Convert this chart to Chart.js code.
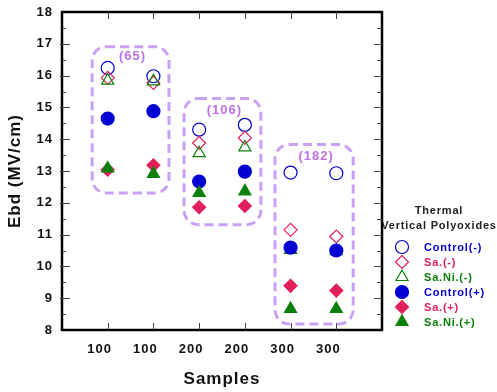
<!DOCTYPE html>
<html>
<head>
<meta charset="utf-8">
<script src="https://cdn.jsdelivr.net/npm/chart.js@4.4.0/dist/chart.umd.min.js"></script>
<style>
  html, body { margin: 0; padding: 0; background: #fff; }
</style>
</head>
<body>
<canvas id="chart" width="497" height="392"></canvas>
<script>
// category labels on the x axis (positions 1..6)
const categories = ['100', '100', '200', '200', '300', '300'];
const seriesNames = ['Control(-)', 'Sa.(-)', 'Sa.Ni.(-)', 'Control(+)', 'Sa.(+)', 'Sa.Ni.(+)'];

// Ebd values (MV/cm)
const controlMinus = [16.24, 15.98, 14.30, 14.45, 12.95, 12.93];
const saMinus      = [15.93, 15.77, 13.88, 14.04, 11.15, 10.94];
const saNiMinus    = [15.84, 15.82, 13.56, 13.74, 10.52, 10.48];
const controlPlus  = [14.65, 14.88, 12.67, 12.98, 10.59, 10.50];
const saPlus       = [13.04, 13.18, 11.86, 11.90, 9.39, 9.24];
const saNiPlus     = [13.08, 12.91, 12.31, 12.36, 8.66, 8.66];

// dashed groups: x range, y range (data units) and label
const groupLabels = ['(65)', '(106)', '(182)'];
const groupX = [[0.66, 2.34], [2.67, 4.35], [4.66, 6.37]];
const groupY = [[16.91, 12.31], [15.28, 11.31], [13.83, 8.19]];

const yTicks = [8, 9, 10, 11, 12, 13, 14, 15, 16, 17, 18];

const BLUE = '#0000d2';
const PINK = '#e2205c';
const GREEN = '#0a800a';
const NONE = 'rgba(0,0,0,0)';

const styles = [
  { color: BLUE,  fill: NONE,  shape: 'circle',   r: 6.5 },
  { color: PINK,  fill: NONE,  shape: 'rectRot',  r: 6.5 },
  { color: GREEN, fill: NONE,  shape: 'triangle', r: 7 },
  { color: BLUE,  fill: BLUE,  shape: 'circle',   r: 6.5 },
  { color: PINK,  fill: PINK,  shape: 'rectRot',  r: 6.5 },
  { color: GREEN, fill: GREEN, shape: 'triangle', r: 7 }
];
const allSeries = [controlMinus, saMinus, saNiMinus, controlPlus, saPlus, saNiPlus];

const datasets = allSeries.map((vals, i) => ({
  label: seriesNames[i],
  data: vals.map((v, j) => ({ x: j + 1, y: v })),
  pointStyle: styles[i].shape,
  pointRadius: styles[i].r,
  pointHoverRadius: styles[i].r,
  pointBackgroundColor: styles[i].fill,
  pointBorderColor: styles[i].color,
  pointBorderWidth: 1.2,
  showLine: false,
  order: 5 - i
}));

function roundRect(ctx, x, y, w, h, r) {
  ctx.beginPath();
  ctx.moveTo(x + r, y);
  ctx.lineTo(x + w - r, y);
  ctx.arcTo(x + w, y, x + w, y + r, r);
  ctx.lineTo(x + w, y + h - r);
  ctx.arcTo(x + w, y + h, x + w - r, y + h, r);
  ctx.lineTo(x + r, y + h);
  ctx.arcTo(x, y + h, x, y + h - r, r);
  ctx.lineTo(x, y + r);
  ctx.arcTo(x, y, x + r, y, r);
  ctx.closePath();
}

const spacing = {
  id: 'spacing',
  beforeDraw(chart) { chart.ctx.letterSpacing = '1px'; }
};

const groups = {
  id: 'groups',
  beforeDatasetsDraw(chart) {
    const { ctx, scales: { x, y } } = chart;
    ctx.save();
    groupLabels.forEach((lab, i) => {
      const x0 = x.getPixelForValue(groupX[i][0]);
      const x1 = x.getPixelForValue(groupX[i][1]);
      const y0 = y.getPixelForValue(groupY[i][0]);
      const y1 = y.getPixelForValue(groupY[i][1]);
      ctx.strokeStyle = '#c9a2f6';
      ctx.lineWidth = 3;
      ctx.setLineDash([9, 5]);
      roundRect(ctx, x0, y0, x1 - x0, y1 - y0, 14);
      ctx.stroke();
      ctx.setLineDash([]);
      ctx.fillStyle = '#bf72e6';
      ctx.font = 'bold 13px "Liberation Sans", Arial, sans-serif';
      ctx.letterSpacing = '1px';
      ctx.textAlign = 'center';
      ctx.textBaseline = 'middle';
      ctx.fillText(lab, (x0 + x1) / 2 + 2, y0 + (i === 0 ? 10 : 12));
    });
    ctx.restore();
  }
};

const frame = {
  id: 'frame',
  afterDraw(chart) {
    const { ctx, chartArea: a, scales: { x, y } } = chart;
    ctx.save();

    // legend
    ctx.letterSpacing = '0.8px';
    ctx.font = 'bold 11px "Liberation Sans", Arial, sans-serif';
    ctx.fillStyle = '#222';
    ctx.textAlign = 'center';
    ctx.textBaseline = 'middle';
    ctx.fillText('Thermal', 439, 211);
    ctx.fillText('Vertical Polyoxides', 439, 226);
    ctx.textAlign = 'left';
    seriesNames.forEach((name, i) => {
      const cy = 247 + i * 15;
      const st = styles[i];
      ctx.fillStyle = st.fill;
      ctx.strokeStyle = st.color;
      ctx.lineWidth = 1.2;
      Chart.helpers.drawPoint(ctx, { pointStyle: st.shape, radius: st.r, borderWidth: 1.2, rotation: 0 }, 402, cy);
      ctx.fillStyle = st.color;
      ctx.fillText(name, 424, cy + 1);
    });

    // frame
    ctx.strokeStyle = '#000';
    ctx.lineWidth = 2.5;
    ctx.strokeRect(a.left, a.top, a.right - a.left, a.bottom - a.top);

    // ticks
    ctx.strokeStyle = '#444';
    ctx.lineWidth = 1;
    ctx.beginPath();
    for (let v = 8; v <= 18; v += 0.5) {
      const py = Math.round(y.getPixelForValue(v)) + 0.5;
      const major = v % 1 === 0;
      if (v === 8 || v === 18) continue;
      ctx.moveTo(a.left + (major ? -2 : 0), py);
      ctx.lineTo(a.left + (major ? 8 : 4), py);
      ctx.moveTo(a.right, py);
      ctx.lineTo(a.right - (major ? 8 : 5), py);
    }
    categories.forEach((c, j) => {
      const px = Math.round(x.getPixelForValue(j + 1)) + 0.5;
      ctx.moveTo(px, a.bottom);
      ctx.lineTo(px, a.bottom - 7);
      ctx.moveTo(px, a.top);
      ctx.lineTo(px, a.top + 7);
    });
    ctx.stroke();
    ctx.restore();
  }
};

const font = { family: '"Liberation Sans", Arial, sans-serif', weight: 'bold' };

new Chart(document.getElementById('chart'), {
  type: 'scatter',
  data: { datasets },
  options: {
    responsive: false,
    devicePixelRatio: 1,
    animation: false,
    layout: { padding: { left: 0, right: 115, top: 12, bottom: 0 } },
    plugins: {
      legend: { display: false },
      tooltip: { enabled: false }
    },
    scales: {
      x: {
        type: 'linear',
        min: 0,
        max: 7,
        afterBuildTicks(scale) { scale.ticks = categories.map((c, j) => ({ value: j + 1 })); },
        afterFit(scale) { scale.height = 62; },
        grid: { display: false, drawTicks: false },
        border: { display: false },
        ticks: {
          color: '#111',
          font: { ...font, size: 13 },
          padding: 12,
          labelOffset: -8,
          maxRotation: 0,
          autoSkip: false,
          callback: (v) => categories[v - 1]
        },
        title: {
          display: true,
          text: 'Samples',
          color: '#111',
          font: { ...font, size: 17 },
          padding: { top: 0, bottom: 2 }
        }
      },
      y: {
        min: 8,
        max: 18,
        afterBuildTicks(scale) { scale.ticks = yTicks.map(v => ({ value: v })); },
        afterFit(scale) {
          scale.width = 62;
          scale.paddingTop = 4;
          scale.paddingBottom = 4;
        },
        grid: { display: false, drawTicks: false },
        border: { display: false },
        ticks: {
          color: '#111',
          font: { ...font, size: 13 },
          padding: 9
        },
        title: {
          display: true,
          text: 'Ebd (MV/cm)',
          color: '#111',
          font: { ...font, size: 17 },
          padding: { top: 5, bottom: 0 }
        }
      }
    }
  },
  plugins: [spacing, groups, frame]
});
</script>
</body>
</html>
